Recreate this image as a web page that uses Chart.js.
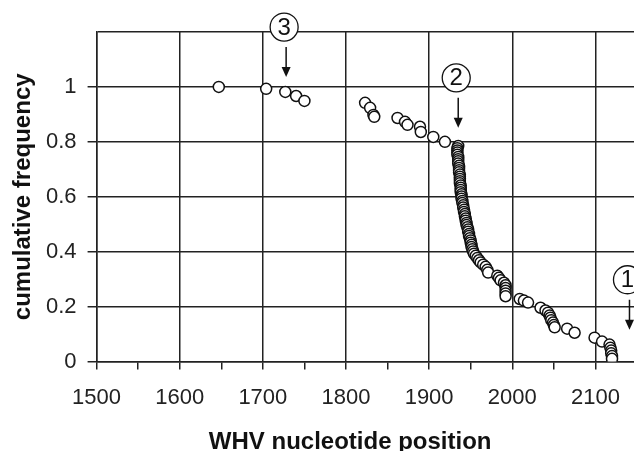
<!DOCTYPE html>
<html>
<head>
<meta charset="utf-8">
<script src="https://cdn.jsdelivr.net/npm/chart.js@4/dist/chart.umd.min.js"></script>
<style>
    html, body { margin: 0; padding: 0; background: #fff; overflow: hidden; }
    #wrap { width: 718px; height: 451px; }
</style>
</head>
<body>
<div id="wrap"><canvas id="cumChart"></canvas></div>
<script>
// ============= cumulative frequency vs WHV nucleotide position =============

const positions = [
    1647, 1704, 1727, 1740, 1750,
    1823, 1829, 1833, 1834, 1862, 1871, 1874, 1889, 1890, 1905, 1919,
    1935, 1934, 1934, 1934, 1934, 1935, 1935, 1935, 1935, 1936,
    1936, 1936, 1936, 1937, 1937, 1937, 1937, 1937, 1938, 1938,
    1938, 1938, 1939, 1939, 1939, 1940, 1940, 1941, 1941, 1942,
    1942, 1943, 1943, 1944, 1944, 1945, 1945, 1946, 1947, 1947,
    1948, 1948, 1949, 1950, 1950, 1951, 1951, 1952, 1953, 1954,
    1956, 1958, 1960, 1962, 1965,
    1968, 1970, 1971, 1982, 1984, 1986, 1990, 1992, 1992, 1992, 1992, 1992,
    2009, 2014, 2019, 2034, 2040, 2043, 2045, 2046, 2047, 2049, 2050, 2051,
    2066, 2075, 2099, 2108, 2117, 2118, 2119, 2119, 2120, 2120
]
const cumFreq = [
    1.0, 0.993, 0.982, 0.967, 0.949,
    0.942, 0.924, 0.898, 0.891, 0.887, 0.873, 0.862, 0.855, 0.836, 0.818, 0.8,
    0.785, 0.777, 0.769, 0.761, 0.753, 0.745, 0.737, 0.729, 0.721, 0.713,
    0.705, 0.697, 0.689, 0.681, 0.673, 0.665, 0.657, 0.649, 0.641, 0.633,
    0.625, 0.617, 0.609, 0.601, 0.593, 0.585, 0.577, 0.569, 0.561, 0.553,
    0.545, 0.537, 0.529, 0.521, 0.513, 0.505, 0.497, 0.489, 0.481, 0.473,
    0.465, 0.457, 0.449, 0.441, 0.433, 0.425, 0.417, 0.409, 0.401, 0.393,
    0.385, 0.377, 0.369, 0.361, 0.353,
    0.345, 0.334, 0.324, 0.313, 0.305, 0.296, 0.287, 0.278, 0.268, 0.258, 0.248, 0.238,
    0.228, 0.222, 0.215, 0.196, 0.186, 0.178, 0.168, 0.16, 0.151, 0.142, 0.133, 0.125,
    0.12, 0.105, 0.087, 0.073, 0.062, 0.05, 0.04, 0.03, 0.02, 0.01
]

const xTicks = [1500, 1600, 1700, 1800, 1900, 2000, 2100, 2200]
const yTicks = [0, 0.2, 0.4, 0.6, 0.8, 1]

// circled markers with arrows (x position, frequency at arrow tip)
const markLabels = ['1', '2', '3']
const markX = [2141, 1935, 1728]
const markY = [0.116, 0.851, 1.036]

const xTitle = 'WHV nucleotide position'
const FONT = "'Liberation Sans', Arial, sans-serif"

const markerPlugin = {
    id: 'markers',
    afterDatasetsDraw(chart) {
        const ctx = chart.ctx
        const xs = chart.scales.x
        const ys = chart.scales.y
        ctx.save()
        markLabels.forEach((lab, i) => {
            const px = xs.getPixelForValue(markX[i])
            const tip = ys.getPixelForValue(markY[i])
            // arrow
            ctx.strokeStyle = '#111'
            ctx.fillStyle = '#111'
            ctx.lineWidth = 1.5
            ctx.beginPath()
            ctx.moveTo(px, tip - 30)
            ctx.lineTo(px, tip - 8)
            ctx.stroke()
            ctx.beginPath()
            ctx.moveTo(px, tip)
            ctx.lineTo(px - 4.5, tip - 10)
            ctx.lineTo(px + 4.5, tip - 10)
            ctx.closePath()
            ctx.fill()
            // circle with number
            const cy = tip - 50
            ctx.beginPath()
            ctx.arc(px - 2, cy, 14, 0, Math.PI * 2)
            ctx.fillStyle = '#fff'
            ctx.fill()
            ctx.lineWidth = 1.3
            ctx.stroke()
            ctx.fillStyle = '#111'
            ctx.font = '24px ' + FONT
            ctx.textAlign = 'center'
            ctx.textBaseline = 'middle'
            ctx.fillText(lab, px - 2, cy + 1)
        })
        ctx.restore()
    },
    afterDraw(chart) {
        // x axis title, centred under the visible part of the axis
        const ctx = chart.ctx
        const xs = chart.scales.x
        ctx.save()
        ctx.fillStyle = '#111'
        ctx.font = 'bold 24px ' + FONT
        ctx.textAlign = 'center'
        ctx.textBaseline = 'middle'
        ctx.fillText(xTitle, xs.getPixelForValue(1805), chart.height - 9)
        ctx.restore()
    }
}

document.addEventListener('DOMContentLoaded', function () {
    const ctx = document.getElementById('cumChart').getContext('2d')

    new Chart(ctx, {
        type: 'scatter',
        data: {
            datasets: [{
                label: 'cumulative frequency',
                data: positions.map((x, i) => ({ x: x, y: cumFreq[i] })),
                backgroundColor: '#fff',
                borderColor: '#111',
                borderWidth: 1.5,
                pointRadius: 5.5,
                pointHoverRadius: 5.5
            }]
        },
        plugins: [markerPlugin],
        options: {
            responsive: true,
            maintainAspectRatio: false,
            animation: false,
            layout: {
                padding: { top: 32, left: 11, bottom: 25, right: 0 }
            },
            plugins: {
                legend: { display: false },
                tooltip: { enabled: false }
            },
            scales: {
                x: {
                    type: 'linear',
                    min: 1500,
                    max: 2200,
                    afterBuildTicks: axis => {
                        const t = []
                        for (let v = xTicks[0]; v <= xTicks[xTicks.length - 1]; v += 50) t.push({ value: v })
                        axis.ticks = t
                    },
                    ticks: {
                        callback: v => xTicks.includes(v) ? String(v) : '',
                        autoSkip: false,
                        maxRotation: 0,
                        color: '#222',
                        padding: 15,
                        font: { family: FONT, size: 22 }
                    },
                    grid: {
                        color: c => xTicks.includes(c.tick && c.tick.value) ? '#222' : 'rgba(0,0,0,0)',
                        tickColor: '#222',
                        lineWidth: 1.5,
                        tickLength: 8
                    },
                    border: { color: '#222', width: 1.5 }
                },
                y: {
                    min: 0,
                    max: 1.2,
                    afterBuildTicks: axis => {
                        axis.ticks = yTicks.concat([1.2]).map(v => ({ value: v }))
                    },
                    ticks: {
                        callback: v => yTicks.includes(v) ? String(v) : '',
                        color: '#222',
                        padding: 11,
                        font: { family: FONT, size: 22 }
                    },
                    grid: {
                        color: '#222',
                        tickColor: c => yTicks.includes(c.tick && c.tick.value) ? '#222' : 'rgba(0,0,0,0)',
                        lineWidth: 1.5,
                        tickLength: 9
                    },
                    border: { color: '#222', width: 1.5 },
                    title: {
                        display: true,
                        text: 'cumulative frequency',
                        color: '#111',
                        font: { family: FONT, size: 24, weight: 'bold', lineHeight: 1 },
                        padding: { top: 0, bottom: 0 }
                    }
                }
            }
        }
    })
})
</script>
</body>
</html>
